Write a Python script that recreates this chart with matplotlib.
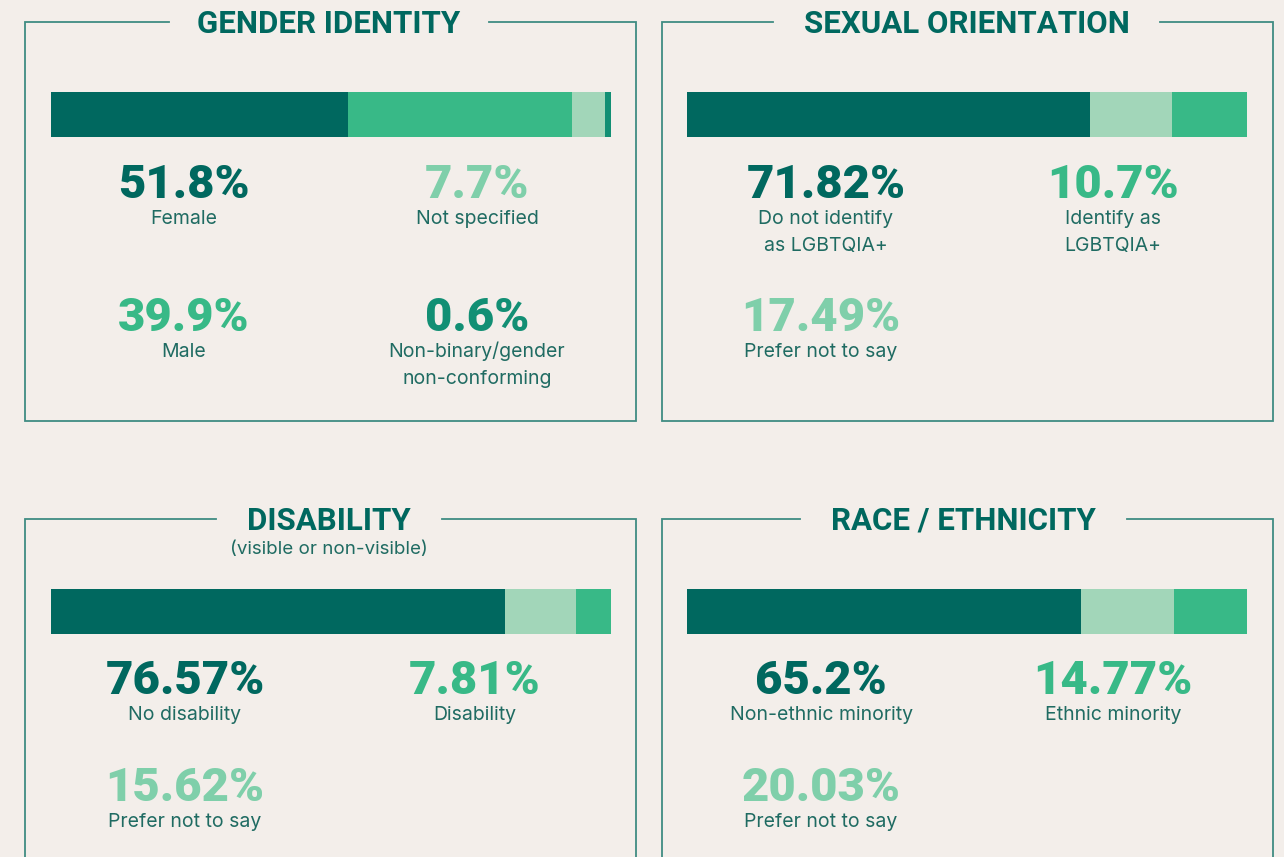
import matplotlib.pyplot as plt

#---------------------------------------------------------
#Data
#---------------------------------------------------------

# stated percentages (big numbers) and the segment shares as drawn in the bars
gender_labels = ['Female', 'Male', 'Not specified', 'Non-binary/gender\nnon-conforming']
gender_values = [51.8, 39.9, 7.7, 0.6]
gender_bar = [53.0, 40.0, 5.9, 1.1]

orientation_labels = ['Do not identify\nas LGBTQIA+', 'Prefer not to say', 'Identify as\nLGBTQIA+']
orientation_values = [71.82, 17.49, 10.7]
orientation_bar = [72.0, 14.6, 13.4]

disability_labels = ['No disability', 'Prefer not to say', 'Disability']
disability_values = [76.57, 15.62, 7.81]
disability_bar = [81.0, 12.8, 6.2]

race_labels = ['Non-ethnic minority', 'Prefer not to say', 'Ethnic minority']
race_values = [65.2, 20.03, 14.77]
race_bar = [70.4, 16.6, 13.0]

#---------------------------------------------------------
#Style
#---------------------------------------------------------

BG = '#F3EEEA'
DARK = '#00685F'
MID = '#38B987'
LIGHT = '#A2D6B9'
LIGHT_TXT = '#7FCFAA'
TEAL = '#128F74'
LINE = '#3F8C82'
LABEL = '#1F6B62'

W, H = 1284, 857

TITLE_FONT = ['Roboto', 'DejaVu Sans']
NUM_FONT = ['Roboto', 'DejaVu Sans']
LABEL_FONT = ['Inter', 'DejaVu Sans']

panels = [
    dict(title='GENDER IDENTITY', sub=None,
         labels=gender_labels, values=gender_values, bar_vals=gender_bar,
         colors=[DARK, MID, LIGHT, TEAL], tcolors=[DARK, MID, LIGHT_TXT, TEAL],
         box=(25, 22, 636, 421), gap=(169, 489), bar=(51, 92, 611, 137),
         slots=[(184, 198), (184, 331), (477, 198), (477, 331)]),
    dict(title='SEXUAL ORIENTATION', sub=None,
         labels=orientation_labels, values=orientation_values, bar_vals=orientation_bar,
         colors=[DARK, LIGHT, MID], tcolors=[DARK, LIGHT_TXT, MID],
         box=(662, 22, 1273, 421), gap=(773, 1160), bar=(687, 92, 1247, 137),
         slots=[(826, 198), (821, 331), (1113, 198)]),
    dict(title='DISABILITY', sub='(visible or non-visible)',
         labels=disability_labels, values=disability_values, bar_vals=disability_bar,
         colors=[DARK, LIGHT, MID], tcolors=[DARK, LIGHT_TXT, MID],
         box=(25, 519, 636, H + 5), gap=(216, 442), bar=(51, 589, 611, 634),
         slots=[(185, 694), (185, 801), (475, 694)]),
    dict(title='RACE / ETHNICITY', sub=None,
         labels=race_labels, values=race_values, bar_vals=race_bar,
         colors=[DARK, LIGHT, MID], tcolors=[DARK, LIGHT_TXT, MID],
         box=(662, 519, 1273, H + 5), gap=(800, 1127), bar=(687, 589, 1247, 634),
         slots=[(821, 694), (821, 801), (1113, 694)]),
]

#---------------------------------------------------------
#Plot
#---------------------------------------------------------

fig = plt.figure(figsize=(W / 100, H / 100), dpi=100, facecolor=BG)
bg = fig.add_axes([0, 0, 1, 1])
bg.set_xlim(0, W)
bg.set_ylim(H, 0)
bg.axis('off')

for p in panels:
    x0, y0, x1, y1 = p['box']
    g0, g1 = p['gap']
    lw = 1.3
    # frame, open at the top where the title sits
    bg.plot([g0, x0, x0, x1, x1, g1], [y0, y0, y1, y1, y0, y0], color=LINE, lw=lw,
            solid_joinstyle='miter')

    cx = (g0 + g1) / 2
    bg.text(cx, y0 + 11, p['title'], ha='center', va='baseline', fontsize=22.5,
            fontweight='bold', color=DARK, family=TITLE_FONT)
    if p['sub']:
        bg.text(cx, y0 + 35, p['sub'], ha='center', va='baseline', fontsize=13.5,
                color=LABEL, family=LABEL_FONT)

    # stacked bar
    bx0, by0, bx1, by1 = p['bar']
    ax = fig.add_axes([bx0 / W, 1 - by1 / H, (bx1 - bx0) / W, (by1 - by0) / H])
    left = 0
    for v, c in zip(p['bar_vals'], p['colors']):
        ax.barh(0, v, left=left, height=1, color=c, edgecolor='none')
        left += v
    ax.set_xlim(0, sum(p['bar_vals']))
    ax.set_ylim(-0.5, 0.5)
    ax.axis('off')

    # numbers and labels
    for lab, v, tc, (sx, sy) in zip(p['labels'], p['values'], p['tcolors'], p['slots']):
        bg.text(sx, sy, f'{v}%', ha='center', va='baseline', fontsize=34,
                fontweight='black', color=tc, family=NUM_FONT)
        for i, line in enumerate(lab.split('\n')):
            bg.text(sx, sy + 26 + i * 27, line, ha='center', va='baseline',
                    fontsize=14, color=LABEL, family=LABEL_FONT)

plt.savefig('out.png', dpi=100, facecolor=BG)
